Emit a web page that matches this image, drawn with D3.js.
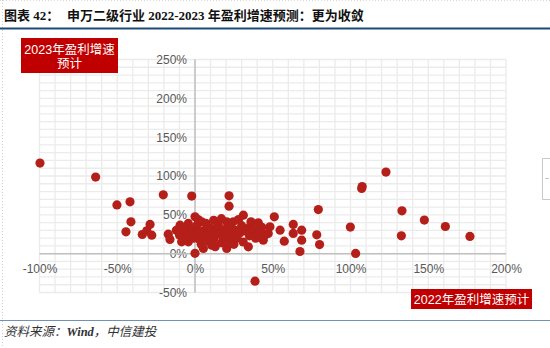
<!DOCTYPE html>
<html>
<head>
<meta charset="utf-8">
<script src="https://cdn.jsdelivr.net/npm/d3@7"></script>
<style>
  html, body { margin: 0; padding: 0; background: #fff; }
  svg { display: block; }
</style>
</head>
<body>
<svg id="chart" width="550" height="348"></svg>
<script>
// 2022 profit growth forecast (%) for each Shenwan level-2 industry
const growth2022 = [
  -99.7, -63.9, -50.2, -41.8, -41.2, -44.4, -33.9, -28.9, -27.8, -31.0,
  -20.4, -2.1, -17.2, -16.1, -9.6, -8.6, -7.5, -4.3, -4.3, -6.0,
  21.9, 21.9, 0, 0, 4.3, 5.4, 10.7, 20.4, 20.4, 24.6,
  31.1, 35.4, 34.3, 40.7, 43.9, 48.2, 47.1, 51.0, 54.7, 57.4,
  63.2, 63.2, 68.6, 68.6, 67.5, 79.3, 78.3, 80.1, 99.9, 103.3,
  107.2, 107.5, 122.8, 133.1, 132.7, 147.5, 161, 176.8, 38.6,
  -12, -10, -6, -3, -1, -1, 1, 2, 3, 4,
  5, 6, 7, 8, 9, 10, 11, 12, 13, 14,
  15, 16, 17, 18, 19, 21, 22, 23, 24, 25,
  26, 27, 28, 29, 30, 31, 33, 35, 36, 38,
  39, 41, 43, 45, 2, 12, 17
];
// 2023 profit growth forecast (%) for the same industries
const growth2023 = [
  116.6, 98.6, 62.7, 66.8, 41.0, 28.1, 24.7, 37.6, 23.8, 29.4,
  75.8, 74.1, 25.1, 18.3, 36.7, 15.2, 28.1, 38.9, 15.2, 22,
  74.5, 61.2, 47.4, 0.5, 41, 6.7, 11, 6.7, 41, 41,
  49.6, 34.5, 8.8, 39.7, 17.4, 34.5, 26, 47.4, 30.3, 16.1,
  37.6, 26, 30.3, 17.4, 2.8, 56.8, 24.3, 11.7, 34.2, 0.3,
  84, 86.5, 105, 55.2, 23, 43.2, 35, 22.2, -35.4,
  30, 24, 33, 26, 31, 20, 36, 27, 18, 12,
  29, 22, 39, 27, 16, 33, 24, 19, 9, 30,
  37, 25, 14, 21, 31, 27, 17, 34, 24, 12,
  30, 20, 44, 27, 36, 15, 29, 23, 41, 31,
  20, 27, 34, 24, 44, 43, 45
];

const xTicks = [-100, -50, 0, 50, 100, 150, 200];
const yTicks = [-50, 0, 50, 100, 150, 200, 250];
const xLabel = "2022年盈利增速预计";
const yLabelLines = ["2023年盈利增速", "预计"];
const titleLead = "图表 42：";
const titleText = "申万二级行业 2022-2023 年盈利增速预测：更为收敛";
const sourceParts = [["资料来源：", "normal"], ["Wind", "bold"], ["，中信建投", "normal"]];

const svg = d3.select("#chart");
const points = growth2022.map((g, i) => ({ x: g, y: growth2023[i] }));

const x = d3.scaleLinear().domain([-100, 200]).range([39.5, 506]);
const y = d3.scaleLinear().domain([-50, 250]).range([292.5, 59.5]);

// page frame: dotted left edge and top edge
svg.append("line").attr("x1", 2.5).attr("x2", 2.5).attr("y1", 0).attr("y2", 348)
  .attr("stroke", "#cfcfcf").attr("stroke-dasharray", "1,2");
svg.append("line").attr("x1", 0).attr("x2", 550).attr("y1", 0.5).attr("y2", 0.5)
  .attr("stroke", "#d8d8d8").attr("stroke-dasharray", "1,2");

// title
const title = svg.append("g")
  .attr("font-family", "'Liberation Serif', 'Noto Sans CJK SC', serif")
  .attr("font-weight", "bold").attr("font-size", 13).attr("fill", "#111");
title.append("text").attr("x", 4).attr("y", 20).text(titleLead);
title.append("text").attr("x", 67).attr("y", 20).text(titleText);
svg.append("line").attr("x1", 0).attr("x2", 550).attr("y1", 28.5).attr("y2", 28.5)
  .attr("stroke", "#1f4a78").attr("stroke-width", 2);

// grid every 10%
const grid = svg.append("g").attr("stroke", "#ebebeb").attr("stroke-width", 1.3);
grid.selectAll("line.v").data(d3.range(-100, 201, 10)).join("line")
  .attr("x1", d => x(d)).attr("x2", d => x(d))
  .attr("y1", y(250)).attr("y2", y(-50));
grid.selectAll("line.h").data(d3.range(-50, 251, 10)).join("line")
  .attr("x1", x(-100)).attr("x2", x(200))
  .attr("y1", d => y(d)).attr("y2", d => y(d));

// axes crossing at zero
const fmt = d => d + "%";
const yAxis = svg.append("g").attr("transform", `translate(${x(0)},0)`)
  .call(d3.axisLeft(y).tickValues(yTicks).tickFormat(fmt).tickSize(0).tickPadding(8));
const xAxis = svg.append("g").attr("transform", `translate(0,${y(0)})`)
  .call(d3.axisBottom(x).tickValues(xTicks).tickFormat(fmt).tickSize(0).tickPadding(11));
[xAxis, yAxis].forEach(a => {
  a.select(".domain").remove();
  a.selectAll("text").attr("font-family", "'Liberation Sans', Arial, sans-serif")
    .attr("font-size", 12).attr("fill", "#595959");
});
svg.append("line").attr("x1", x(-100)).attr("x2", x(200)).attr("y1", y(0)).attr("y2", y(0))
  .attr("stroke", "#bfbfbf").attr("stroke-width", 1.5);
svg.append("line").attr("x1", x(0)).attr("x2", x(0)).attr("y1", y(250)).attr("y2", y(-50))
  .attr("stroke", "#bfbfbf").attr("stroke-width", 1.5);

// industry points
svg.append("g").selectAll("circle").data(points).join("circle")
  .attr("cx", d => x(d.x)).attr("cy", d => y(d.y)).attr("r", 4.6)
  .attr("fill", "#b51f19");

// axis name boxes
const yBox = svg.append("g");
yBox.append("rect").attr("x", 21).attr("y", 38).attr("width", 97).attr("height", 35).attr("fill", "#c00000");
yBox.append("text").attr("text-anchor", "middle")
  .attr("font-family", "'Liberation Sans', 'Noto Sans CJK SC', sans-serif")
  .attr("font-size", 12.5).attr("fill", "#fff")
  .selectAll("tspan").data(yLabelLines).join("tspan")
  .attr("x", 69.5).attr("y", (d, i) => 53.5 + i * 14).text(d => d);

const xBox = svg.append("g");
xBox.append("rect").attr("x", 411).attr("y", 289).attr("width", 121).attr("height", 20).attr("fill", "#c00000");
xBox.append("text").attr("x", 471.5).attr("y", 303.5).attr("text-anchor", "middle")
  .attr("font-family", "'Liberation Sans', 'Noto Sans CJK SC', sans-serif")
  .attr("font-size", 12.5).attr("fill", "#fff").text(xLabel);

// source note
svg.append("line").attr("x1", 0).attr("x2", 550).attr("y1", 320.5).attr("y2", 320.5)
  .attr("stroke", "#7090b5").attr("stroke-width", 1.2);
svg.append("text").attr("x", 4).attr("y", 336)
  .attr("font-family", "'Liberation Serif', 'Noto Sans CJK SC', serif")
  .attr("font-style", "italic").attr("font-size", 12.5).attr("fill", "#333")
  .selectAll("tspan").data(sourceParts).join("tspan")
  .attr("font-weight", d => d[1]).text(d => d[0]);

// small side handle on the right edge
svg.append("path").attr("d", "M550,158.5 H542.5 V199.5 H550 M545,178.5 H549")
  .attr("fill", "none").attr("stroke", "#c8c8c8");
</script>
</body>
</html>
